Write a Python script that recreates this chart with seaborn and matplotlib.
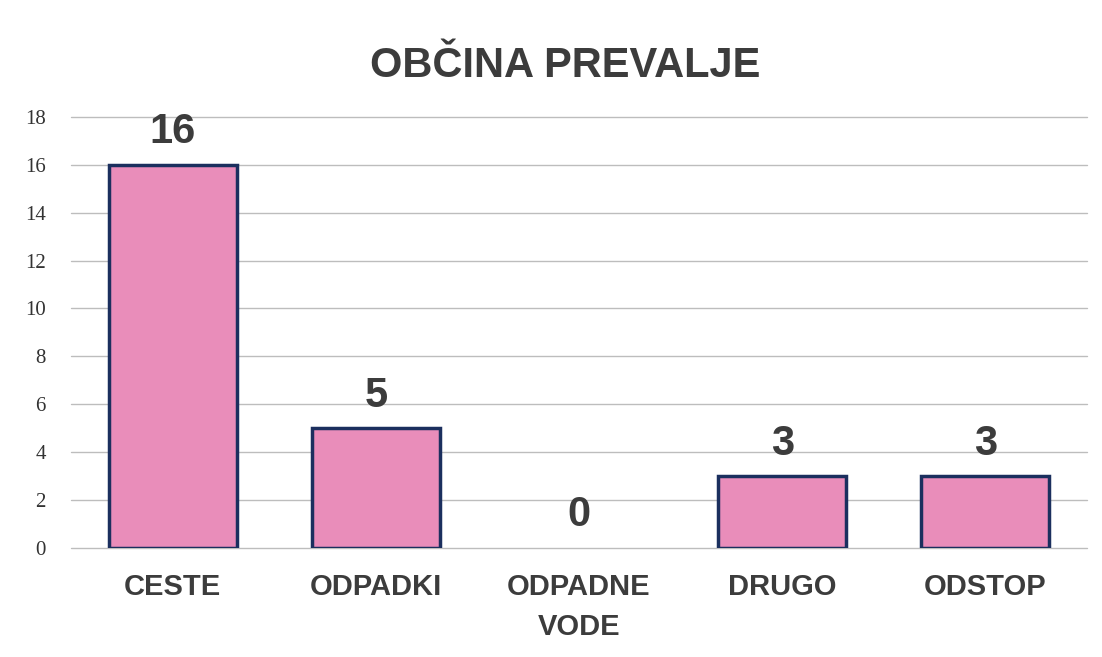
import pandas as pd
import seaborn as sns
import matplotlib.pyplot as plt

# Data
categories = ["CESTE", "ODPADKI", "ODPADNE\nVODE", "DRUGO", "ODSTOP"]
counts = [16, 5, 0, 3, 3]
y_ticks = [0, 2, 4, 6, 8, 10, 12, 14, 16, 18]

df = pd.DataFrame({"kategorija": categories, "stevilo": counts})

sns.set_theme(style="white")
plt.rcParams["font.family"] = ["Liberation Sans", "DejaVu Sans"]

fig = plt.figure(figsize=(11.02, 6.57), dpi=100)
ax = fig.add_axes([0.0644, 0.166, 0.922, 0.656])

sns.barplot(
    data=df,
    x="kategorija",
    y="stevilo",
    color="#E98DBA",
    edgecolor="#1B2F5E",
    linewidth=2.5,
    width=0.63,
    saturation=1,
    ax=ax,
    zorder=3,
)

# no outline on empty bars
for p in ax.patches:
    if p.get_height() == 0:
        p.set_linewidth(0)

text_col = "#3C3C3C"

# value labels above bars
for i, v in enumerate(counts):
    ax.annotate(
        str(v),
        xy=(i, v),
        xytext=(0, 9),
        textcoords="offset points",
        ha="center",
        va="bottom",
        fontsize=30,
        fontweight="bold",
        color=text_col,
    )

ax.set_ylim(0, 18)
ax.set_yticks(y_ticks)
ax.set_yticklabels([str(t) for t in y_ticks], family=["Liberation Serif", "DejaVu Serif"],
                   fontsize=15, color="#333333")
ax.set_xlim(-0.5, 4.5)
ax.tick_params(axis="y", length=0, pad=18)
ax.tick_params(axis="x", length=0, pad=18)
for lbl in ax.get_xticklabels():
    lbl.set_fontsize(21)
    lbl.set_fontweight("bold")
    lbl.set_color(text_col)
    lbl.set_linespacing(1.55)

ax.yaxis.grid(True, color="#BDBDBD", linewidth=1)
for gl in ax.get_ygridlines():
    gl.set_clip_on(False)
ax.set_axisbelow(True)
for s in ax.spines.values():
    s.set_visible(False)
ax.set_xlabel("")
ax.set_ylabel("")

fig.text(0.513, 0.9, "OBČINA PREVALJE", ha="center", va="center",
         fontsize=30, fontweight="bold", color=text_col)

fig.savefig("out.png", dpi=100)
